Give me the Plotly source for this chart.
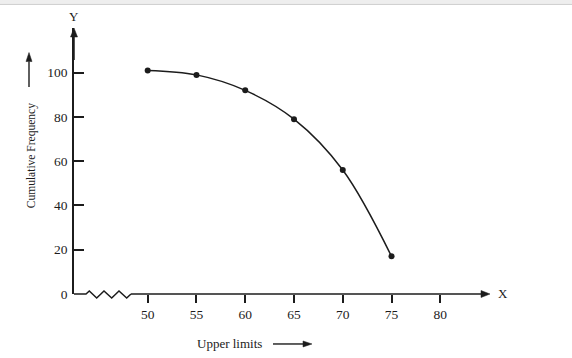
import math
import plotly.graph_objects as go

# ---- data ----
upper_limits = [50, 55, 60, 65, 70, 75]
cum_freq = [101, 99, 92, 79, 56, 17]
x_ticks = [50, 55, 60, 65, 70, 75, 80]
y_ticks = [0, 20, 40, 60, 80, 100]

W, H = 572, 358
L, R_px, T, B_px = 74, 490, 28, 293.6  # plot area pixel box
X_RANGE = [50 - (147.7 - L) / 9.753, 80 + (R_px - 440.3) / 9.753]
Y_RANGE = [0, (B_px - T) / 2.21]
FONT = "Liberation Serif, Times New Roman, serif"
INK = "#1c1c1c"


def px(xp):
    return (xp - L) / (R_px - L)


def py(yp):
    return (B_px - yp) / (B_px - T)


fig = go.Figure()
fig.add_trace(go.Scatter(
    x=upper_limits, y=cum_freq, mode="lines+markers",
    line=dict(color=INK, width=1.5, shape="spline", smoothing=1.0),
    marker=dict(color=INK, size=6),
    cliponaxis=False, hoverinfo="skip", showlegend=False,
))

shapes = []


def arrow(x0, y0, x1, y1, head_len=9, head_w=7, width=1.4):
    dx, dy = x1 - x0, y1 - y0
    d = math.hypot(dx, dy)
    ux, uy = dx / d, dy / d
    bx, by = x1 - ux * head_len, y1 - uy * head_len
    shapes.append(dict(type="line", xref="paper", yref="paper",
                       x0=px(x0), y0=py(y0), x1=px(bx), y1=py(by),
                       line=dict(color=INK, width=width)))
    nx, ny = -uy, ux
    p1 = (-ux * head_len + nx * head_w / 2, -uy * head_len + ny * head_w / 2)
    p2 = (-ux * head_len - nx * head_w / 2, -uy * head_len - ny * head_w / 2)
    path = "M 0 0 L {:.2f} {:.2f} L {:.2f} {:.2f} Z".format(p1[0], -p1[1], p2[0], -p2[1])
    shapes.append(dict(type="path", xref="paper", yref="paper",
                       xsizemode="pixel", ysizemode="pixel",
                       xanchor=px(x1), yanchor=py(y1), path=path,
                       fillcolor=INK, line=dict(color=INK, width=0.5)))


# y axis arrow head (line drawn by axis)
arrow(74, 60, 74, 28, head_len=9, head_w=7, width=1.5)
# x axis: straight bit, zigzag, straight to arrow
Y0 = B_px
zig = [(74, Y0), (86, Y0), (89.3, Y0 - 3), (96.7, Y0 + 4), (104, Y0 - 3),
       (111.7, Y0 + 4), (119, Y0 - 3), (126.7, Y0 + 4), (131, Y0)]
path = "M " + " L ".join("{:.2f} {:.2f}".format(a - 74, -(b - Y0)) for a, b in zig)
shapes.append(dict(type="path", xref="paper", yref="paper",
                   xsizemode="pixel", ysizemode="pixel",
                   xanchor=0, yanchor=0, path=path,
                   line=dict(color=INK, width=1.5)))
arrow(131, Y0, 490, Y0, head_len=9, head_w=7, width=1.5)
# axis-title arrows
arrow(29, 87, 29, 52.5, head_len=9, head_w=6, width=1.4)
arrow(273, 343.5, 312, 343.5, head_len=9, head_w=6, width=1.4)

# top grey strip (screenshot frame)
shapes.append(dict(type="rect", xref="paper", yref="paper",
                   x0=px(0), x1=px(W), y0=py(4.5), y1=py(0),
                   fillcolor="#eeeeee", line=dict(width=0)))
shapes.append(dict(type="line", xref="paper", yref="paper",
                   x0=px(0), x1=px(W), y0=py(4.5), y1=py(4.5),
                   line=dict(color="#cfcfcf", width=1)))

annotations = [
    dict(text="Y", x=px(73.5), y=py(16.5), xref="paper", yref="paper",
         showarrow=False, xanchor="center", yanchor="middle",
         font=dict(family=FONT, size=13, color=INK)),
    dict(text="X", x=px(503), y=py(293), xref="paper", yref="paper",
         showarrow=False, xanchor="center", yanchor="middle",
         font=dict(family=FONT, size=13, color=INK)),
    dict(text="Cumulative Frequency", x=px(31), y=py(156), xref="paper", yref="paper",
         showarrow=False, xanchor="center", yanchor="middle", textangle=-90,
         font=dict(family=FONT, size=11.5, color=INK)),
    dict(text="Upper limits", x=px(195), y=py(343.5), xref="paper", yref="paper",
         showarrow=False, xanchor="left", yanchor="middle",
         font=dict(family=FONT, size=13, color=INK)),
]

fig.update_layout(
    width=W, height=H,
    margin=dict(l=L, r=W - R_px, t=T, b=H - B_px, pad=0),
    paper_bgcolor="white", plot_bgcolor="white",
    shapes=shapes, annotations=annotations,
    font=dict(family=FONT, size=13, color=INK),
    xaxis=dict(range=X_RANGE, tickvals=x_ticks, ticktext=[str(v) for v in x_ticks],
               showgrid=False, zeroline=False, showline=False,
               ticks="outside", ticklen=8, tickwidth=1.5, tickcolor=INK,
               tickfont=dict(family=FONT, size=13.5, color=INK), fixedrange=True),
    yaxis=dict(range=Y_RANGE, tickvals=y_ticks, ticktext=[str(v) for v in y_ticks],
               showgrid=False, zeroline=False, showline=True, linecolor=INK, linewidth=1.5,
               ticks="inside", ticklen=10, tickwidth=1.5, tickcolor=INK,
               ticklabelstandoff=2,
               tickfont=dict(family=FONT, size=13.5, color=INK), fixedrange=True),
)

fig.write_html("out.html", config={"displayModeBar": False},
               post_script="document.body.style.margin='0';document.body.style.overflow='hidden';")
